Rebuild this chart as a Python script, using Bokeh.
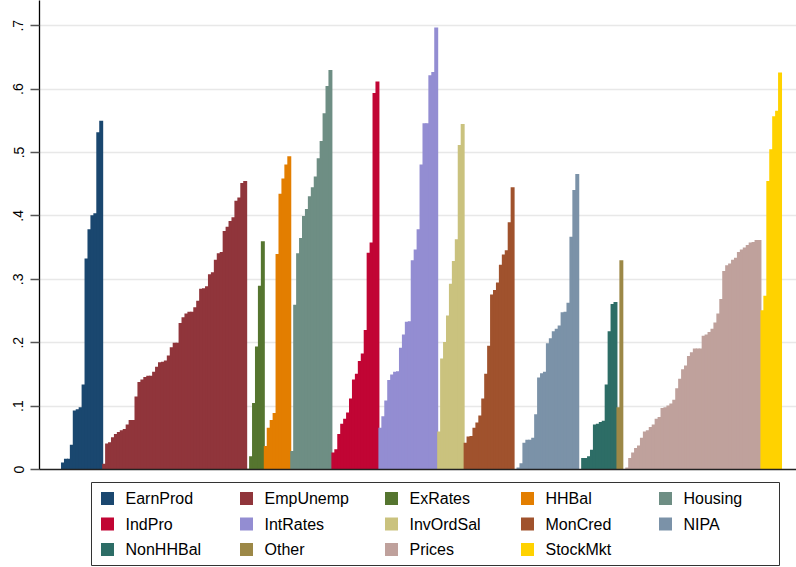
from bokeh.plotting import figure
from bokeh.models import Range1d, FixedTicker, CustomJSTickFormatter, ColumnDataSource
from bokeh.layouts import column
from bokeh.embed import file_html
from bokeh.resources import INLINE
from bokeh.core.properties import value

# ---------------- data ----------------
groups = ["EarnProd", "EmpUnemp", "ExRates", "HHBal", "Housing",
          "IndPro", "IntRates", "InvOrdSal", "MonCred", "NIPA",
          "NonHHBal", "Other", "Prices", "StockMkt"]
colors = ["#1a476f", "#90353b", "#55752f", "#e37e00", "#6e8e84",
          "#c10534", "#938dd2", "#cac27e", "#a0522d", "#7b92a8",
          "#2d6d66", "#9c8847", "#bfa19c", "#ffd200"]

earnprod = [0.011, 0.017, 0.017, 0.039, 0.093, 0.095, 0.098, 0.134, 0.333, 0.379,
            0.401, 0.404, 0.532, 0.550]
empunemp = [0.009, 0.041, 0.043, 0.051, 0.056, 0.059, 0.062, 0.064, 0.071, 0.078,
            0.078, 0.115, 0.138, 0.142, 0.146, 0.148, 0.148, 0.154, 0.162, 0.169,
            0.170, 0.172, 0.180, 0.193, 0.200, 0.200, 0.231, 0.240, 0.246, 0.249,
            0.249, 0.256, 0.266, 0.285, 0.286, 0.289, 0.308, 0.311, 0.331, 0.341,
            0.343, 0.376, 0.383, 0.392, 0.398, 0.424, 0.429, 0.452, 0.455]
exrates = [0.001, 0.021, 0.105, 0.194, 0.290, 0.360]
hhbal = [0.037, 0.066, 0.078, 0.089, 0.340, 0.435, 0.459, 0.481, 0.494]
housing = [0.029, 0.260, 0.341, 0.365, 0.400, 0.411, 0.431, 0.445, 0.462, 0.491,
           0.518, 0.562, 0.605, 0.630]
indpro = [0.027, 0.032, 0.056, 0.072, 0.080, 0.090, 0.112, 0.142, 0.151, 0.171,
          0.183, 0.220, 0.342, 0.358, 0.594, 0.612]
intrates = [0.066, 0.084, 0.109, 0.141, 0.150, 0.154, 0.155, 0.192, 0.213, 0.233,
            0.234, 0.330, 0.347, 0.379, 0.481, 0.546, 0.546, 0.622, 0.627, 0.697]
invordsal = [0.060, 0.175, 0.201, 0.243, 0.293, 0.329, 0.363, 0.512, 0.545]
moncred = [0.042, 0.052, 0.053, 0.066, 0.074, 0.085, 0.112, 0.151, 0.195, 0.276,
           0.283, 0.295, 0.323, 0.339, 0.346, 0.390, 0.445]
nipa = [0.000, 0.003, 0.010, 0.042, 0.047, 0.047, 0.050, 0.087, 0.145, 0.152,
        0.154, 0.199, 0.207, 0.218, 0.222, 0.227, 0.248, 0.249, 0.263, 0.367,
        0.441, 0.466]
nonhhbal = [0.000, 0.018, 0.018, 0.021, 0.031, 0.071, 0.072, 0.075, 0.077, 0.134,
            0.218, 0.261, 0.264]
other = [0.098, 0.330]
prices = [0.000, 0.003, 0.018, 0.027, 0.034, 0.038, 0.050, 0.060, 0.062, 0.067,
          0.071, 0.080, 0.083, 0.097, 0.098, 0.101, 0.104, 0.110, 0.128, 0.143,
          0.158, 0.164, 0.179, 0.185, 0.191, 0.191, 0.191, 0.211, 0.213, 0.217,
          0.222, 0.232, 0.246, 0.269, 0.313, 0.322, 0.325, 0.331, 0.334, 0.343,
          0.347, 0.350, 0.354, 0.358, 0.359, 0.362, 0.362]
stockmkt = [0.251, 0.274, 0.455, 0.505, 0.557, 0.566, 0.626]

series = [earnprod, empunemp, exrates, hhbal, housing, indpro, intrates,
          invordsal, moncred, nipa, nonhhbal, other, prices, stockmkt]

yticks = [0, 0.1, 0.2, 0.3, 0.4, 0.5, 0.6, 0.7]
ytick_labels = ["0", ".1", ".2", ".3", ".4", ".5", ".6", ".7"]

# ---------------- build source ----------------
xs, tops, cols = [], [], []
i = 0
for vals, c in zip(series, colors):
    for v in vals:
        xs.append(i + 0.5)
        tops.append(v)
        cols.append(c)
        i += 1
n_bars = i
src = ColumnDataSource(dict(x=xs, top=tops, color=cols))

FONT = "Liberation Sans"

# ---------------- main figure ----------------
W = 796
H_MAIN = 479
BOTTOM = 10
LEFT = 39
px_per_unit = 634.0
frame_h = H_MAIN - BOTTOM

p = figure(width=W, height=H_MAIN,
           x_range=Range1d(-7.5, n_bars + 5.1),
           y_range=Range1d(0, frame_h / px_per_unit),
           output_backend="svg", toolbar_location=None,
           min_border_left=LEFT, min_border_right=0,
           min_border_top=0, min_border_bottom=BOTTOM)
p.outline_line_color = None
p.background_fill_color = "white"
p.border_fill_color = "white"

# slightly overlapping bars (sorted ascending within groups) to avoid hairline seams
p.vbar(x="x", top="top", bottom=0, width=1.35, source=src,
       fill_color="color", line_color=None)

p.xgrid.grid_line_color = None
p.ygrid.ticker = FixedTicker(ticks=yticks)
p.ygrid.grid_line_color = "#e8e8e8"
p.ygrid.grid_line_width = 1.6

yax = p.yaxis[0]
yax.ticker = FixedTicker(ticks=yticks)
yax.formatter = CustomJSTickFormatter(
    args=dict(tvals=yticks, tlabels=ytick_labels),
    code="const k = tvals.findIndex(t => Math.abs(t - tick) < 1e-9); return k >= 0 ? tlabels[k] : '';")
yax.major_label_orientation = "vertical"
yax.major_label_text_font = FONT
yax.major_label_text_font_size = "14px"
yax.major_label_text_color = "#000000"
yax.major_label_standoff = 7
yax.major_tick_out = 9
yax.major_tick_in = 0
yax.major_tick_line_color = "#555555"
yax.major_tick_line_width = 1.5
yax.minor_tick_line_color = None
yax.axis_line_color = "#000000"
yax.axis_line_width = 1.3

xax = p.xaxis[0]
xax.ticker = FixedTicker(ticks=[])
xax.major_tick_line_color = None
xax.minor_tick_line_color = None
xax.axis_line_color = "#222222"
xax.axis_line_width = 1.6

# ---------------- legend figure (coords = page pixels) ----------------
H_LEG = 88
leg = figure(width=W, height=H_LEG,
             x_range=Range1d(LEFT, W), y_range=Range1d(H_MAIN + H_LEG, H_MAIN),
             output_backend="svg", toolbar_location=None,
             min_border_left=LEFT, min_border_right=0,
             min_border_top=0, min_border_bottom=0,
             x_axis_type=None, y_axis_type=None)
leg.outline_line_color = None
leg.grid.visible = False

box_left, box_right, box_top, box_bottom = 91, 779, 482, 565
leg.quad(left=[box_left], right=[box_right], top=[box_top], bottom=[box_bottom],
         fill_color=None, line_color="#333333", line_width=1)

col_x = [107, 246, 391, 527, 665]
row_y = [498, 523.5, 549]
ncols = 5
lx, ly, lt, lc = [], [], [], []
for k, (g, c) in enumerate(zip(groups, colors)):
    lx.append(col_x[k % ncols])
    ly.append(row_y[k // ncols])
    lt.append(g)
    lc.append(c)
lsrc = ColumnDataSource(dict(x=lx, y=ly, tx=[v + 18 for v in lx], text=lt, color=lc))
leg.rect(x="x", y="y", width=13, height=13, source=lsrc,
         fill_color="color", line_color=None)
leg.text(x="tx", y="y", text="text", source=lsrc,
         text_baseline="middle", text_align="left",
         text_font=value(FONT), text_font_size="16px", text_color="#000000")

layout = column(p, leg, spacing=0)
open("out.html", "w").write(file_html(layout, INLINE))
